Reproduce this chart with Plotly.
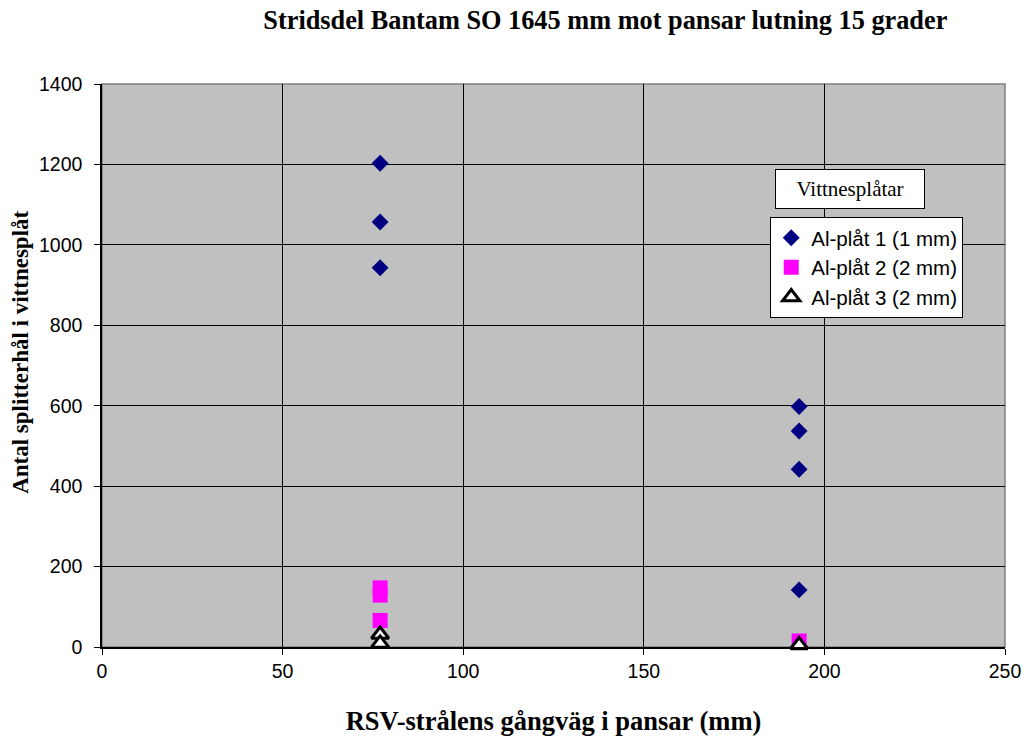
import plotly.graph_objects as go

# Data
s1_x = [77, 77, 77, 193, 193, 193, 193]
s1_y = [1203, 1057, 943, 598, 537, 442, 142]
s2_x = [77, 77, 77, 193]
s2_y = [147, 129, 66, 15]
s3_x = [77, 77, 193]
s3_y = [31, 9, 5]
names = ["Al-plåt 1 (1 mm)", "Al-plåt 2 (2 mm)", "Al-plåt 3 (2 mm)"]

SERIF = "Liberation Serif, Times New Roman, serif"
SANS = "Liberation Sans, Arial, sans-serif"

fig = go.Figure()
fig.add_trace(go.Scatter(x=s1_x, y=s1_y, mode="markers", name=names[0],
                         marker=dict(symbol="diamond", size=13, color="#000080"),
                         cliponaxis=False))
fig.add_trace(go.Scatter(x=s2_x, y=s2_y, mode="markers", name=names[1],
                         marker=dict(symbol="square", size=15, color="#FF00FF"),
                         cliponaxis=False))
fig.add_trace(go.Scatter(x=s3_x, y=s3_y, mode="markers", name=names[2],
                         marker=dict(symbol="triangle-up", size=15, color="white",
                                     line=dict(color="black", width=3)),
                         cliponaxis=False))

fig.update_layout(
    width=1026, height=738,
    margin=dict(l=102, r=21, t=84, b=91),
    paper_bgcolor="white",
    plot_bgcolor="#C0C0C0",
    title=dict(text="<b>Stridsdel Bantam SO 1645 mm mot pansar lutning 15 grader</b>",
               x=0.59, xanchor="center", y=0.973, yanchor="middle",
               font=dict(family=SERIF, size=26.3, color="black")),
    xaxis=dict(range=[0, 250], tickvals=[0, 50, 100, 150, 200, 250],
               showgrid=True, gridcolor="black", gridwidth=1,
               showline=True, linecolor="black", linewidth=1.5, mirror=False,
               ticks="outside", ticklen=6, tickcolor="black",
               zeroline=False, automargin=False,
               tickfont=dict(family=SANS, size=19.5, color="black"),
               title=dict(text="<b>RSV-strålens gångväg i pansar (mm)</b>", standoff=30,
                          font=dict(family=SERIF, size=26.5, color="black"))),
    yaxis=dict(range=[0, 1400], tickvals=[0, 200, 400, 600, 800, 1000, 1200, 1400],
               showgrid=True, gridcolor="black", gridwidth=1,
               showline=True, linecolor="black", linewidth=1.5,
               ticks="outside", ticklen=6, tickcolor="black",
               zeroline=False, automargin=False, ticklabelstandoff=8,
               tickfont=dict(family=SANS, size=19.5, color="black")),
    legend=dict(x=0.74, y=0.764, xanchor="left", yanchor="top",
                bgcolor="white", bordercolor="black", borderwidth=1,
                font=dict(family=SANS, size=20.5, color="black"),
                itemsizing="trace", tracegroupgap=4),
    showlegend=True,
)

# Plot border (right/top)
fig.add_shape(type="rect", xref="paper", yref="paper", x0=0, y0=0, x1=1, y1=1,
              line=dict(color="#808080", width=1.5), layer="below")

# Y axis title as annotation (offset from plot centre as in reference)
fig.add_annotation(text="<b>Antal splitterhål i vittnesplåt</b>", xref="paper", yref="paper",
                   x=-0.091, y=(647 - 352) / 563, xanchor="center", yanchor="middle",
                   textangle=-90, showarrow=False,
                   font=dict(family=SERIF, size=23, color="black"))

fig.add_annotation(text="Vittnesplåtar", xref="paper", yref="paper",
                   x=0.8285, y=0.813, xanchor="center", yanchor="middle", showarrow=False,
                   width=134, height=24,
                   font=dict(family=SERIF, size=21, color="black"),
                   bgcolor="white", bordercolor="black", borderwidth=1, borderpad=7)

fig.write_html("out.html")
